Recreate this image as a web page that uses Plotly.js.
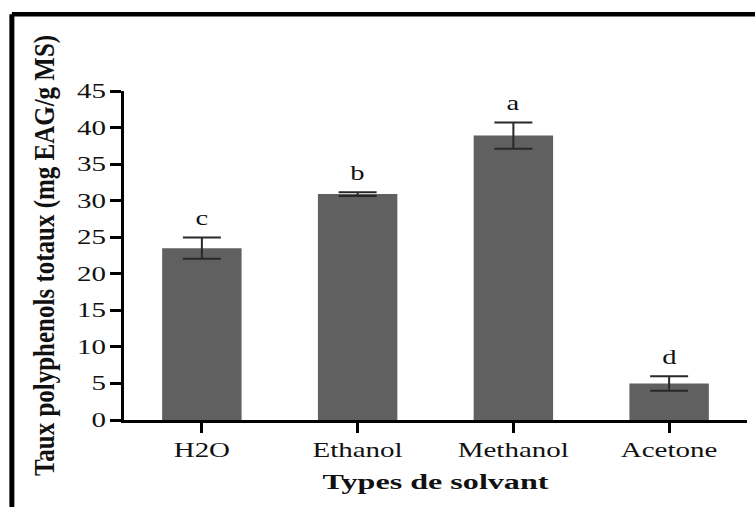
<!DOCTYPE html>
<html>
<head>
<meta charset="utf-8">
<script src="https://cdn.plot.ly/plotly-3.0.1.min.js"></script>
<style>
  html, body { margin: 0; padding: 0; background: #fff; }
  #chart { width: 755px; height: 507px; }
</style>
</head>
<body>
<div id="chart"></div>
<script>
// Total polyphenol content by extraction solvent
const solvents = ["H2O", "Ethanol", "Methanol", "Acetone"];
const means = [23.5, 30.9, 38.9, 5.0];
const sds = [1.45, 0.25, 1.8, 1.0];
const groups = ["c", "b", "a", "d"];
const yTicks = [0, 5, 10, 15, 20, 25, 30, 35, 40, 45];

const serif = "Liberation Serif, Times New Roman, serif";

const bars = {
  type: "bar",
  x: solvents,
  y: means,
  width: 0.51,
  marker: { color: "rgb(96,96,96)", line: { width: 0 } },
  error_y: {
    type: "data",
    array: sds,
    visible: true,
    color: "rgb(40,40,40)",
    thickness: 2,
    width: 19
  },
  hoverinfo: "x+y"
};

// significance letters sit just above each error bar
const letters = solvents.map((s, i) => ({
  x: s,
  y: means[i] + sds[i],
  xref: "x",
  yref: "y",
  text: groups[i],
  showarrow: false,
  yanchor: "middle",
  yshift: 20,
  font: { family: serif, size: 22, color: "#111" }
}));

const layout = {
  width: 755,
  height: 507,
  margin: { l: 124, r: 8, t: 91, b: 87 },
  paper_bgcolor: "#fff",
  plot_bgcolor: "#fff",
  showlegend: false,
  xaxis: {
    type: "category",
    range: [-0.5, 3.5],
    showline: true,
    linecolor: "#000",
    linewidth: 3,
    ticks: "outside",
    ticklen: 10,
    tickwidth: 3,
    tickcolor: "#000",
    showgrid: false,
    zeroline: false,
    tickfont: { family: serif, size: 20, color: "#111" },
    title: {
      text: "<b>Types de solvant</b>",
      font: { family: serif, size: 21, color: "#111" },
      standoff: 15
    }
  },
  yaxis: {
    range: [0, 45],
    tickvals: yTicks,
    ticktext: yTicks.map(String),
    showline: true,
    linecolor: "#000",
    linewidth: 3,
    ticks: "outside",
    ticklen: 11,
    tickwidth: 3,
    tickcolor: "#000",
    showgrid: false,
    zeroline: false,
    tickfont: { family: serif, size: 20, color: "#111" },
    title: {
      text: "<b>Taux polyphenols totaux (mg EAG/g MS)</b>",
      font: { family: serif, size: 25, color: "#111" },
      standoff: 26
    }
  },
  annotations: letters,
  shapes: [
    // figure frame, left and top edges
    { type: "line", xref: "paper", yref: "paper", x0: -0.18, x1: 1.02, y0: 1.233, y1: 1.233,
      line: { color: "#000", width: 4.5 } },
    { type: "line", xref: "paper", yref: "paper", x0: -0.18, x1: -0.18, y0: -0.27, y1: 1.233,
      line: { color: "#000", width: 5 } }
  ]
};

// Widen text glyphs horizontally (screen x) around a fixed anchor point.
function widen(el, sx, anchor) {
  const r = el.getBoundingClientRect();
  const px = anchor === "end" ? r.right : anchor === "start" ? r.left : (r.left + r.right) / 2;
  const py = (r.top + r.bottom) / 2;
  const m = el.parentNode.getScreenCTM().inverse();
  const p = new DOMPoint(px, py).matrixTransform(m);
  const prev = el.getAttribute("transform") || "";
  el.setAttribute("transform",
    `translate(${p.x},${p.y}) scale(${sx},1) translate(${-p.x},${-p.y}) ${prev}`);
}

Plotly.newPlot("chart", [bars], layout, { displayModeBar: false, staticPlot: true })
  .then(gd => {
    gd.querySelectorAll(".xtick text").forEach(t => widen(t, 1.45, "middle"));
    gd.querySelectorAll(".ytick text").forEach(t => widen(t, 1.45, "end"));
    gd.querySelectorAll(".g-xtitle text").forEach(t => widen(t, 1.53, "middle"));
    gd.querySelectorAll(".g-ytitle text").forEach(t => widen(t, 1.17, "middle"));
    gd.querySelectorAll(".annotation-text").forEach(t => widen(t, 1.3, "middle"));
  });
</script>
</body>
</html>
